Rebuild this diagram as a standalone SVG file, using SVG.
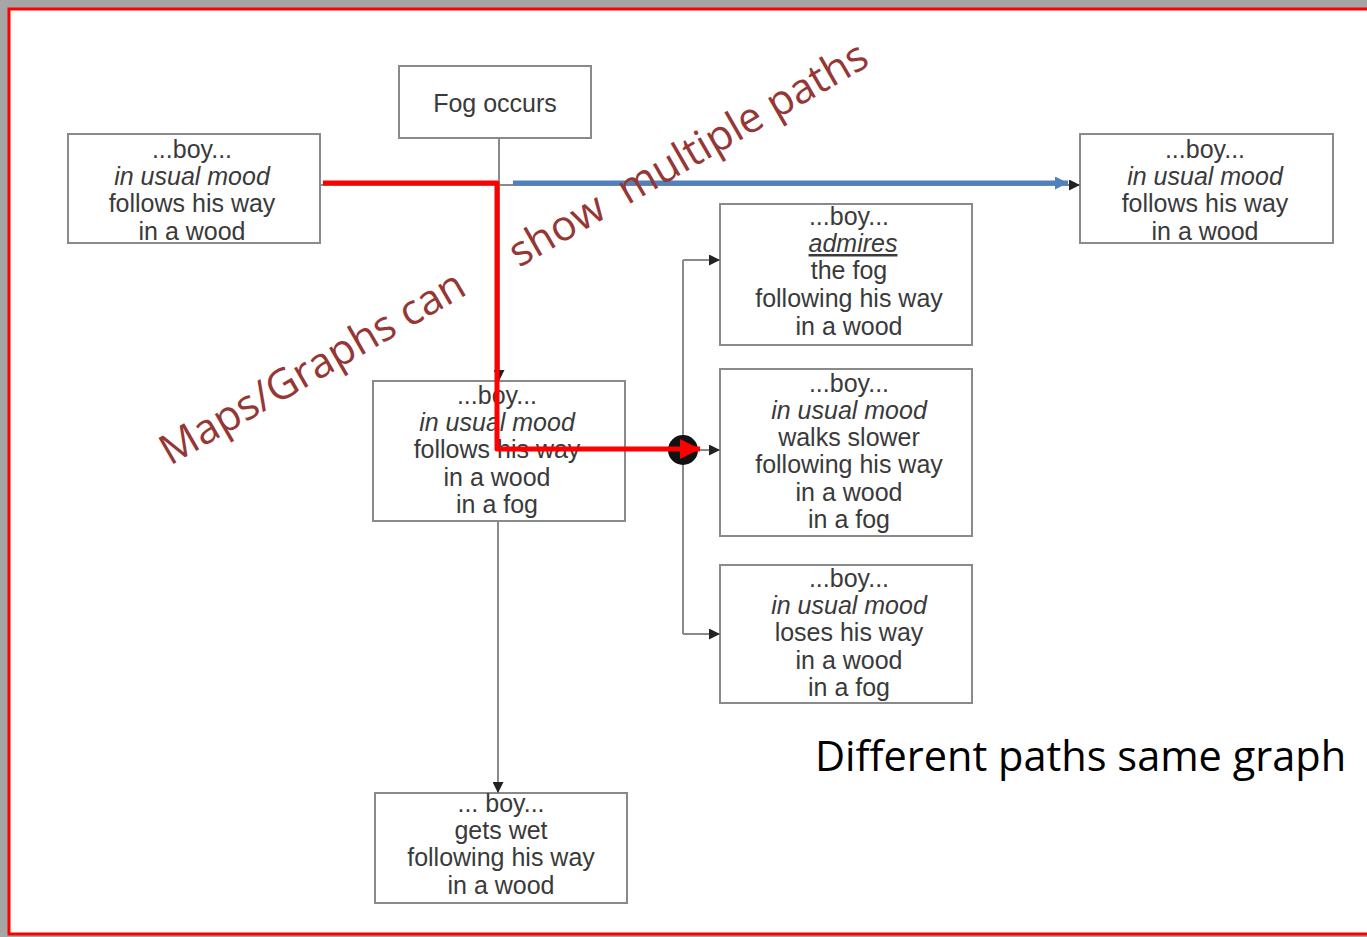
<svg xmlns="http://www.w3.org/2000/svg" width="1367" height="937" viewBox="0 0 1367 937">
<defs>
<style>
.box{fill:#fff;stroke:#8a8a8a;stroke-width:2}
.t{font-family:"Liberation Sans",Arial,sans-serif;font-size:25px;fill:#3a3a3a;text-anchor:middle}
.i{font-style:italic}
.c{fill:none;stroke:#8a8a8a;stroke-width:2}
.note{font-family:"Open Sans","Noto Sans",sans-serif;font-size:42px;fill:#953735}
</style>
<marker id="ah" viewBox="0 0 10 10" refX="10" refY="5" markerWidth="13" markerHeight="11" markerUnits="userSpaceOnUse" orient="auto"><path d="M0,0 L10,5 L0,10 z" fill="#222"/></marker>
<marker id="ahb" viewBox="0 0 10 10" refX="10" refY="5" markerWidth="16" markerHeight="13" markerUnits="userSpaceOnUse" orient="auto"><path d="M0,0 L10,5 L0,10 z" fill="#4f81bd"/></marker>
<marker id="ahr" viewBox="0 0 10 10" refX="10" refY="5" markerWidth="22" markerHeight="20" markerUnits="userSpaceOnUse" orient="auto"><path d="M0,0 L10,5 L0,10 z" fill="#ff0000"/></marker>
</defs>
<rect x="0" y="0" width="1367" height="937" fill="#a6a6a6"/>
<rect x="9" y="9" width="1370" height="925" fill="#fff" stroke="#ff0000" stroke-width="3"/>

<g id="fog">
<rect class="box" x="399" y="66" width="192" height="72"/>
<text class="t" x="495" y="112">Fog occurs</text>
</g>
<g id="start">
<rect class="box" x="68" y="134" width="252" height="109"/>
<text class="t" x="192" y="158">...boy...</text>
<text class="t i" x="192" y="185">in usual mood</text>
<text class="t" x="192" y="212">follows his way</text>
<text class="t" x="192" y="240">in a wood</text>
</g>
<g id="end">
<rect class="box" x="1080" y="134" width="253" height="109"/>
<text class="t" x="1205" y="158">...boy...</text>
<text class="t i" x="1205" y="185">in usual mood</text>
<text class="t" x="1205" y="212">follows his way</text>
<text class="t" x="1205" y="240">in a wood</text>
</g>
<g id="fogged">
<rect class="box" x="373" y="381" width="252" height="140"/>
<text class="t" x="497" y="404">...boy...</text>
<text class="t i" x="497" y="431">in usual mood</text>
<text class="t" x="497" y="458">follows his way</text>
<text class="t" x="497" y="486">in a wood</text>
<text class="t" x="497" y="513">in a fog</text>
</g>
<g id="wet">
<rect class="box" x="375" y="793" width="252" height="110"/>
<text class="t" x="501" y="812">... boy...</text>
<text class="t" x="501" y="839">gets wet</text>
<text class="t" x="501" y="866">following his way</text>
<text class="t" x="501" y="894">in a wood</text>
</g>
<g id="admires">
<rect class="box" x="720" y="204" width="252" height="141"/>
<text class="t" x="849" y="225">...boy...</text>
<text class="t i" x="853" y="252" text-decoration="underline">admires</text>
<text class="t" x="849" y="279">the fog</text>
<text class="t" x="849" y="307">following his way</text>
<text class="t" x="849" y="335">in a wood</text>
</g>
<g id="slower">
<rect class="box" x="720" y="369" width="252" height="167"/>
<text class="t" x="849" y="392">...boy...</text>
<text class="t i" x="849" y="419">in usual mood</text>
<text class="t" x="849" y="446">walks slower</text>
<text class="t" x="849" y="473">following his way</text>
<text class="t" x="849" y="501">in a wood</text>
<text class="t" x="849" y="528">in a fog</text>
</g>
<g id="loses">
<rect class="box" x="720" y="565" width="252" height="138"/>
<text class="t" x="849" y="587">...boy...</text>
<text class="t i" x="849" y="614">in usual mood</text>
<text class="t" x="849" y="641">loses his way</text>
<text class="t" x="849" y="669">in a wood</text>
<text class="t" x="849" y="696">in a fog</text>
</g>

<g id="connectors">
<path class="c" d="M499,138 V381" marker-end="url(#ah)"/>
<path class="c" d="M320,185 H1080" marker-end="url(#ah)"/>
<path class="c" d="M498,521 V793" marker-end="url(#ah)"/>
<path class="c" d="M625,450 H720" marker-end="url(#ah)"/>
<path class="c" d="M683,260 V634"/>
<path class="c" d="M683,260 H720" marker-end="url(#ah)"/>
<path class="c" d="M683,634 H720" marker-end="url(#ah)"/>
<circle cx="683" cy="450" r="15" fill="#111"/>
<path d="M513,183 H1068" fill="none" stroke="#4f81bd" stroke-width="5" marker-end="url(#ahb)"/>
<path d="M323,183 H497 V449 H700" fill="none" stroke="#ff0000" stroke-width="5" stroke-linejoin="round" marker-end="url(#ahr)"/>
</g>

<g id="annotations">
<text class="note" transform="translate(170,466) rotate(-30)">Maps/Graphs can</text>
<text class="note" transform="translate(519,268) rotate(-30)" xml:space="preserve">show  multiple paths</text>
<text x="815" y="771" font-family="Open Sans, Noto Sans, sans-serif" font-size="41.5" fill="#000">Different paths same graph</text>
</g>
</svg>
